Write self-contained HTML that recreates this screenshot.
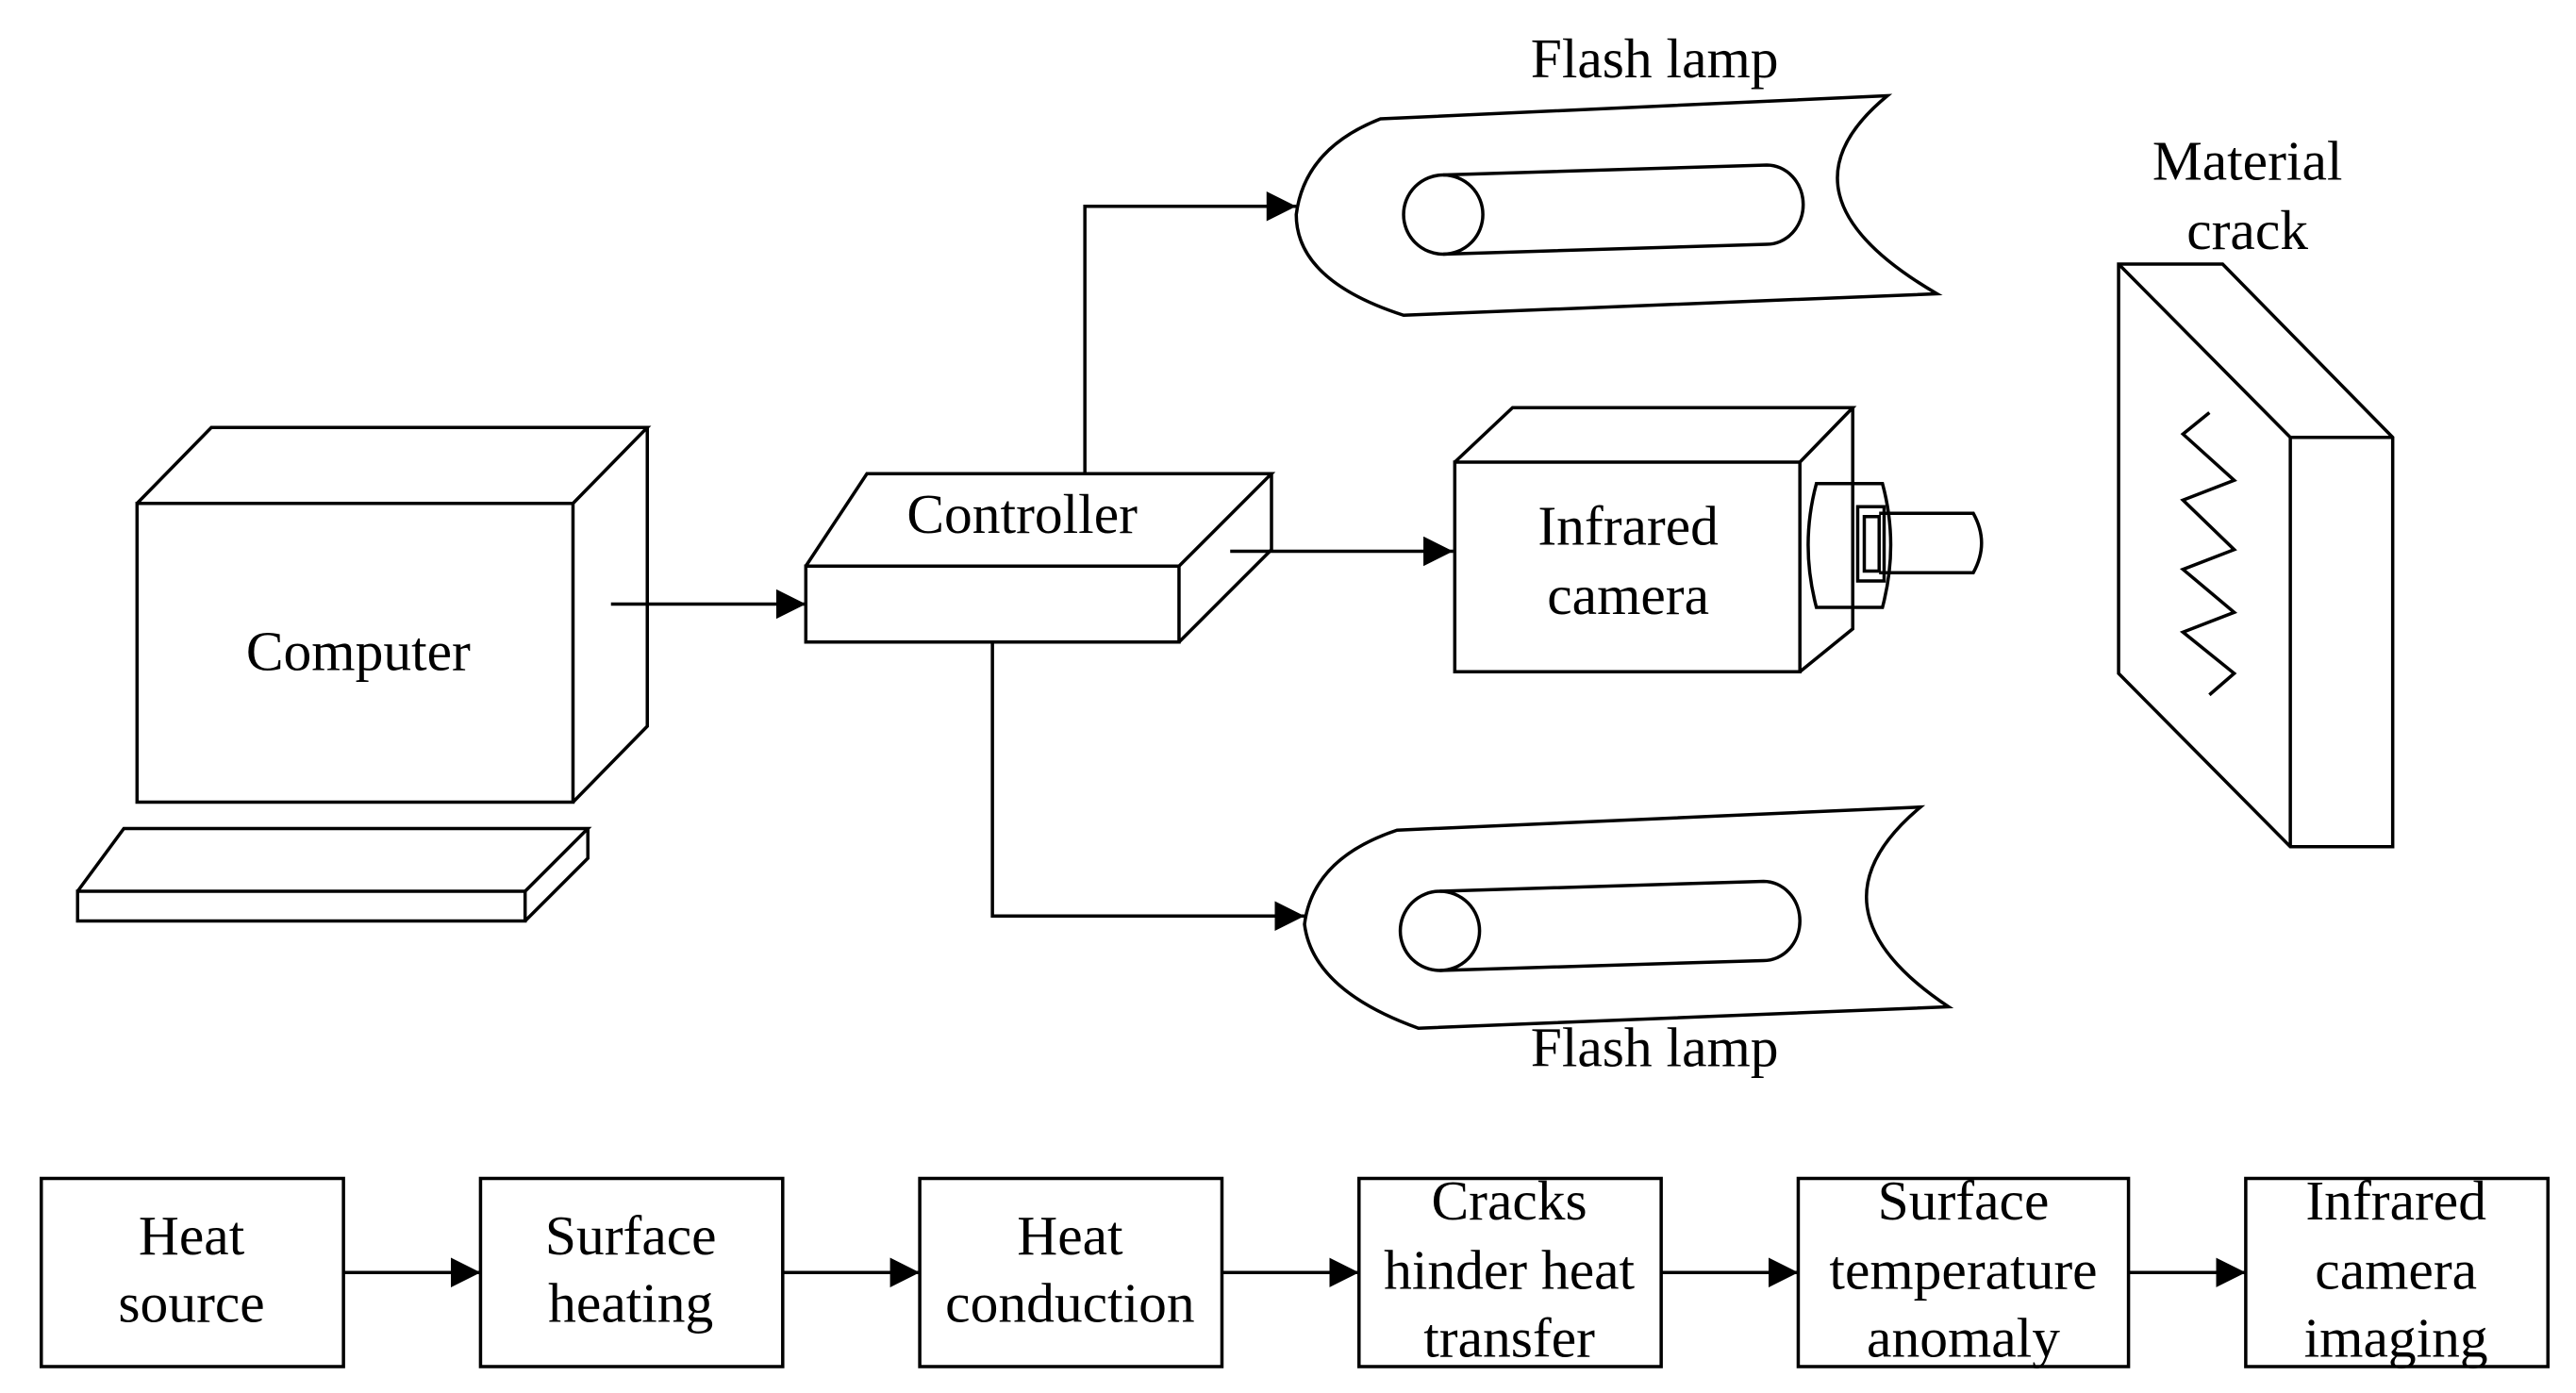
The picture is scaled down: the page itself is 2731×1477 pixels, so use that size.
<!DOCTYPE html>
<html><head><meta charset="utf-8"><style>
html,body{margin:0;padding:0;background:#fff;}
svg{display:block;}
text{font-family:"Liberation Serif",serif;font-size:34px;fill:#000;text-anchor:middle;}
</style></head><body>
<svg width="2731" height="1477" viewBox="0 0 1560 844" preserveAspectRatio="none" xmlns="http://www.w3.org/2000/svg">
<defs>
<marker id="b" viewBox="0 0 10 10" refX="10" refY="5" markerWidth="18" markerHeight="18" markerUnits="userSpaceOnUse" orient="auto"><path d="M0,0L10,5L0,10z" fill="#000"/></marker></defs>
<g fill="none" stroke="#000" stroke-width="2">
<rect x="83" y="305" width="264" height="181"/>
<path d="M83,305L128,259L392,259L347,305M392,259L392,440L347,486"/>
<rect x="47" y="540" width="271" height="18"/>
<path d="M47,540L75,502L356,502L318,540M356,502L356,520L318,558"/>
<rect x="488" y="343" width="226" height="46"/>
<path d="M488,343L525,287L770,287L714,343M770,287L770,333L714,389"/>
<path d="M370,366L488,366" marker-end="url(#b)"/>
<path d="M657,287L657,125L785,125" marker-end="url(#b)"/>
<path d="M745,334L880,334" marker-end="url(#b)"/>
<path d="M601,389L601,555L790,555" marker-end="url(#b)"/>
<path d="M836,72L1143,58Q1070,118 1173,178L850,191Q785,170 785,130Q790,90 836,72Z"/>
<ellipse cx="874" cy="130" rx="24" ry="24"/>
<path d="M874,106L1070,100A22,24 0 0 1 1070,148L874,154"/>
<path d="M846,503L1163,489Q1090,550 1180,610L859,623Q795,600 790,560Q795,520 846,503Z"/>
<ellipse cx="872" cy="564" rx="24" ry="24"/>
<path d="M872,540L1068,534A22,24 0 0 1 1068,582L872,588"/>
<rect x="881" y="280" width="209" height="127"/>
<path d="M881,280L916,247L1122,247L1090,280M1122,247L1122,381L1090,407"/>
<path d="M1100,293L1140,293Q1150,330 1140,368L1100,368Q1090,330 1100,293Z"/>
<rect x="1125" y="307" width="16" height="45"/>
<rect x="1129" y="313" width="9" height="33"/>
<path d="M1138,311L1195,311Q1205,329 1195,347L1138,347"/>
<path d="M1283,160L1346,160L1449,265L1449,513L1387,513L1283,408Z"/>
<path d="M1283,160L1387,265L1387,513M1387,265L1449,265"/>
<path d="M1338,250L1322,263L1353,291L1322,303L1353,333L1322,345L1353,371L1322,383L1353,408L1338,421"/>
<rect x="25" y="714" width="183" height="114"/>
<rect x="291" y="714" width="183" height="114"/>
<rect x="557" y="714" width="183" height="114"/>
<rect x="823" y="714" width="183" height="114"/>
<rect x="1089" y="714" width="200" height="114"/>
<rect x="1360" y="714" width="183" height="114"/>
<path d="M208,771L291,771" marker-end="url(#b)"/>
<path d="M474,771L557,771" marker-end="url(#b)"/>
<path d="M740,771L823,771" marker-end="url(#b)"/>
<path d="M1006,771L1089,771" marker-end="url(#b)"/>
<path d="M1289,771L1360,771" marker-end="url(#b)"/>
</g>
<text x="217" y="406">Computer</text>
<text x="619" y="323">Controller</text>
<text x="1002" y="47">Flash lamp</text>
<text x="1002" y="646">Flash lamp</text>
<text x="986" y="330">Infrared</text>
<text x="986" y="372">camera</text>
<text x="1361" y="109">Material</text>
<text x="1361" y="151">crack</text>
<text x="116" y="760">Heat</text><text x="116" y="801">source</text>
<text x="382" y="760">Surface</text><text x="382" y="801">heating</text>
<text x="648" y="760">Heat</text><text x="648" y="801">conduction</text>
<text x="914" y="739">Cracks</text><text x="914" y="781">hinder heat</text><text x="914" y="822">transfer</text>
<text x="1189" y="739">Surface</text><text x="1189" y="781">temperature</text><text x="1189" y="822">anomaly</text>
<text x="1451" y="739">Infrared</text><text x="1451" y="781">camera</text><text x="1451" y="822">imaging</text>
</svg>
</body></html>
